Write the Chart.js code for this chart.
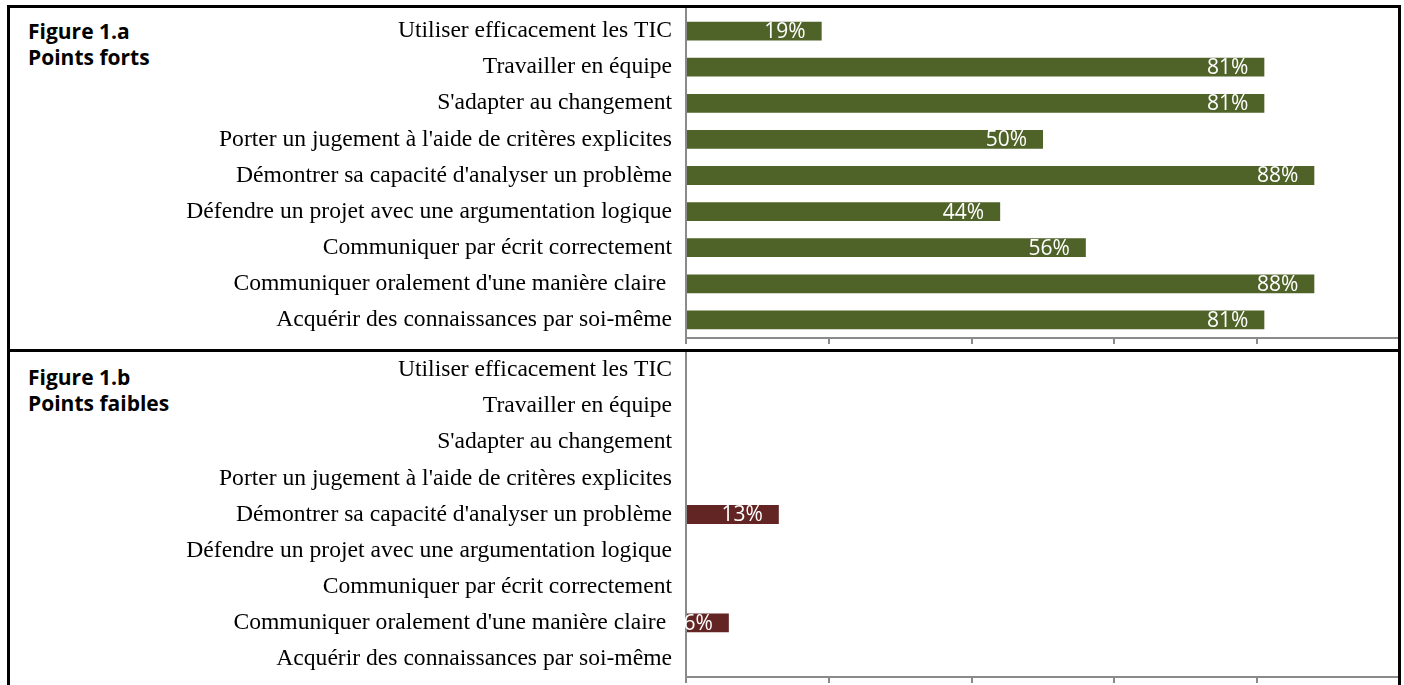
<!DOCTYPE html>
<html>
<head>
<meta charset="utf-8">
<script src="https://cdn.jsdelivr.net/npm/chart.js@4/dist/chart.umd.min.js"></script>
<style>
body { margin: 0; background: #fff; width: 1404px; height: 685px; overflow: hidden; position: relative; }
#frame { position: absolute; left: 7px; top: 5px; width: 1388px; height: 720px; border: 3px solid #000; z-index: 2; pointer-events: none; }
#divider { position: absolute; left: 7px; top: 349px; width: 1394px; height: 3px; background: #000; z-index: 2; }
.fig { position: absolute; left: 28px; font: bold 21px "Open Sans"; line-height: 26px; color: #000; }
canvas { position: absolute; left: 10px; }
</style>
</head>
<body>
<div id="frame"></div>
<div id="divider"></div>
<div class="fig" style="top:18px">Figure 1.a<br>Points forts</div>
<div class="fig" style="top:364px">Figure 1.b<br>Points faibles</div>
<canvas id="forts" width="1390" height="341" style="top:8px"></canvas>
<canvas id="faibles" width="1390" height="333" style="top:352px"></canvas>
<script>
var categories = [
    "Utiliser efficacement les TIC",
    "Travailler en équipe",
    "S'adapter au changement",
    "Porter un jugement à l'aide de critères explicites",
    "Démontrer sa capacité d'analyser un problème",
    "Défendre un projet avec une argumentation logique",
    "Communiquer par écrit correctement",
    "Communiquer oralement d'une manière claire ",
    "Acquérir des connaissances par soi-même"
]
var pointsForts = [0.19, 0.81, 0.81, 0.50, 0.88, 0.44, 0.56, 0.88, 0.81]
var pointsFaibles = [0, 0, 0, 0, 0.13, 0, 0, 0.06, 0]
var xMax = 1
var xStep = 0.2

var axisGray = '#8a8a8a'

// white % labels inside the end of each bar
var valueLabels = {
    id: 'valueLabels',
    afterDatasetsDraw: function(chart) {
        var ctx = chart.ctx
        var area = chart.chartArea
        var values = chart.data.datasets[0].data
        ctx.save()
        ctx.beginPath()
        ctx.rect(area.left - 1, area.top, area.right - area.left + 1, area.bottom - area.top)
        ctx.clip()
        ctx.font = '21px "Open Sans"'
        ctx.fillStyle = '#fff'
        ctx.textAlign = 'right'
        ctx.textBaseline = 'middle'
        chart.getDatasetMeta(0).data.forEach(function(bar, i) {
            if (!values[i]) return
            ctx.fillText(Math.round(values[i] * 100) + '%', bar.x - 16, bar.y + 1)
        })
        ctx.restore()
    }
}

// vertical axis line goes up to the panel border
var axisTop = {
    id: 'axisTop',
    afterDraw: function(chart) {
        var ctx = chart.ctx
        var area = chart.chartArea
        ctx.save()
        ctx.strokeStyle = axisGray
        ctx.lineWidth = 2
        ctx.beginPath()
        ctx.moveTo(area.left, 0)
        ctx.lineTo(area.left, area.top)
        ctx.stroke()
        ctx.restore()
    }
}

function barChart(id, values, color, padTop, axisHeight) {
    return new Chart(document.getElementById(id), {
        type: 'bar',
        data: {
            labels: categories,
            datasets: [{
                data: values,
                backgroundColor: color,
                barPercentage: 0.52,
                categoryPercentage: 1
            }]
        },
        options: {
            indexAxis: 'y',
            responsive: false,
            animation: false,
            layout: { padding: { top: padTop, left: 0, right: 0, bottom: 0 } },
            plugins: { legend: { display: false }, tooltip: { enabled: false } },
            scales: {
                x: {
                    min: 0,
                    max: xMax,
                    ticks: { display: false, stepSize: xStep },
                    grid: { drawOnChartArea: false, drawTicks: true, tickLength: 6, color: axisGray, lineWidth: 2 },
                    border: { display: true, color: axisGray, width: 2 },
                    afterFit: function(scale) {
                        scale.height = axisHeight
                        scale.paddingLeft = 0
                        scale.paddingRight = 0
                    }
                },
                y: {
                    ticks: {
                        color: '#000',
                        padding: 14,
                        autoSkip: false,
                        font: { family: '"Liberation Serif"', size: 23.6 }
                    },
                    grid: { display: false, drawTicks: false },
                    border: { display: true, color: axisGray, width: 2 },
                    afterFit: function(scale) {
                        scale.width = 676
                        scale.paddingTop = 0
                        scale.paddingBottom = 0
                    }
                }
            }
        },
        plugins: [valueLabels, axisTop]
    })
}

barChart('forts', pointsForts, '#4f6228', 5, 11)
barChart('faibles', pointsFaibles, '#632523', 0, 8)
</script>
</body>
</html>
